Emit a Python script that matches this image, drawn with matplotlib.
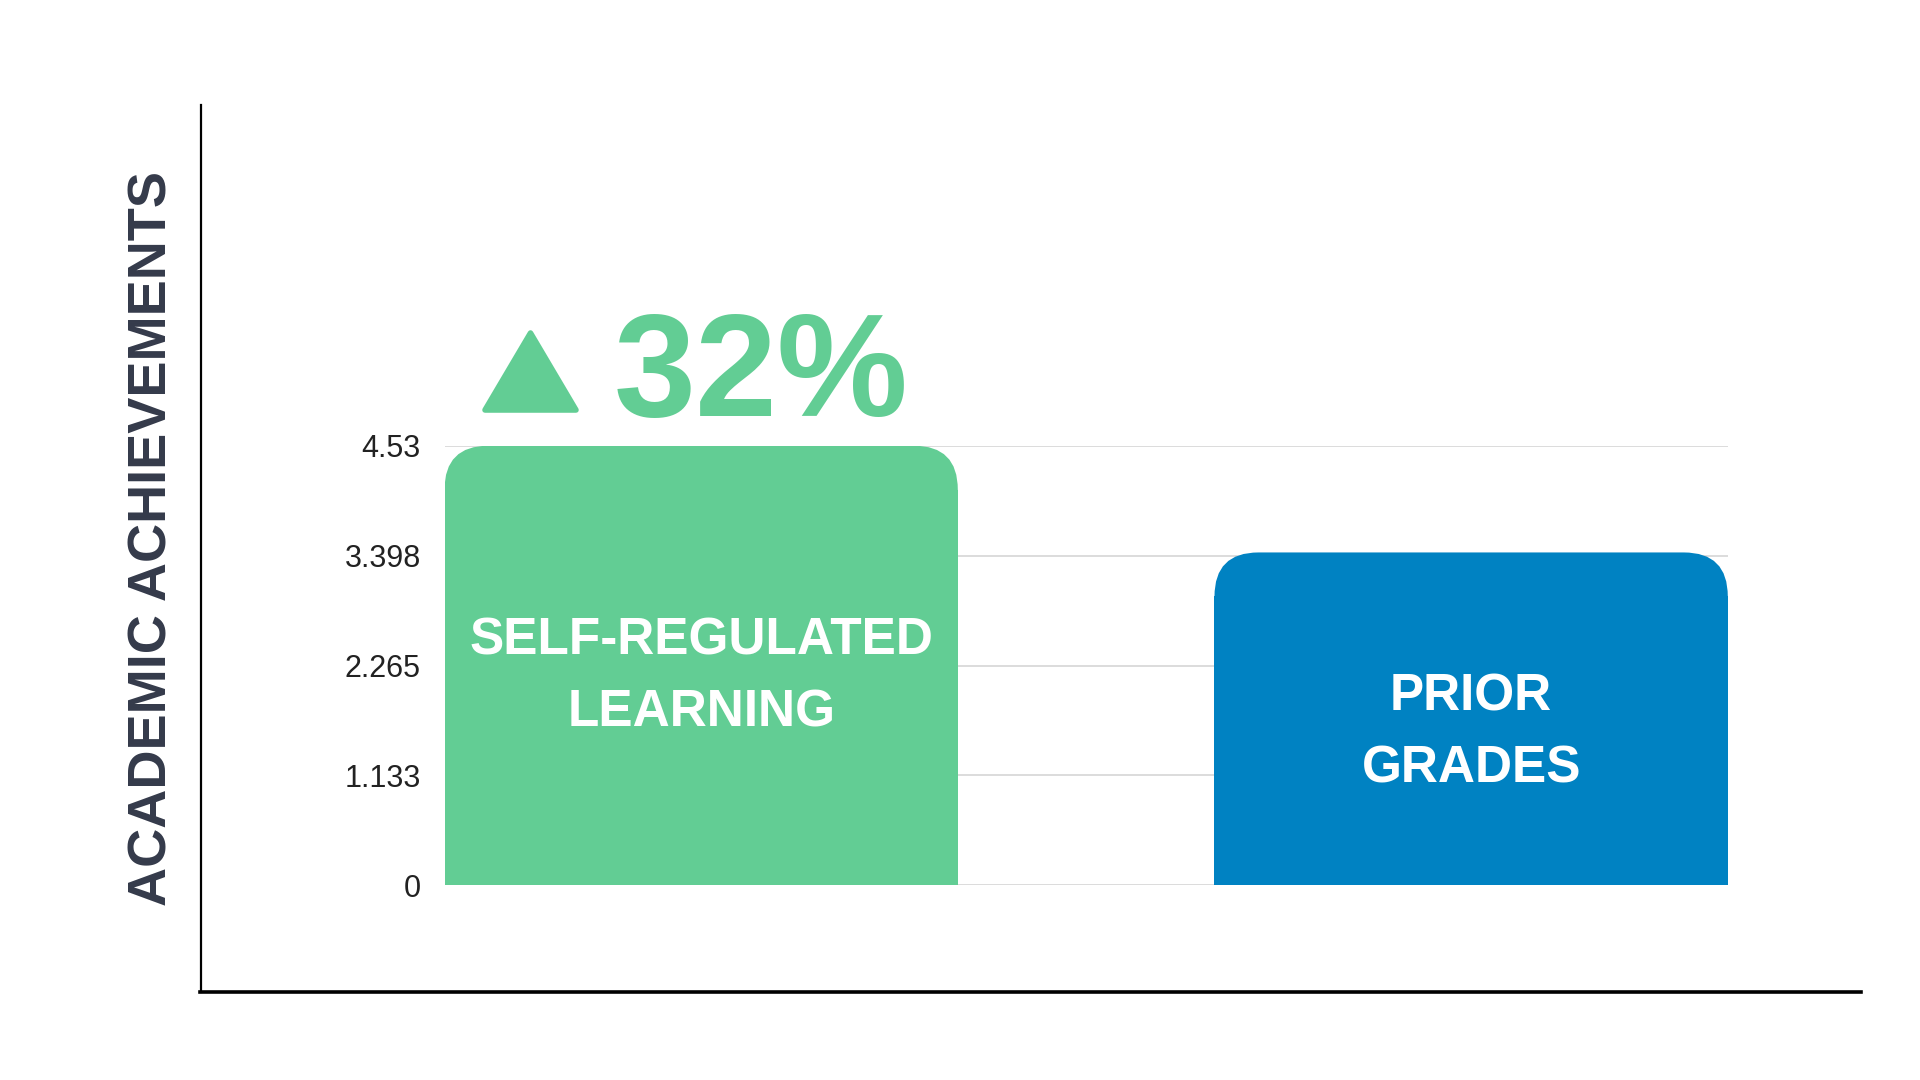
import matplotlib
matplotlib.use("Agg")
import matplotlib.pyplot as plt
from matplotlib.patches import FancyBboxPatch, Polygon
from matplotlib.lines import Line2D
import numpy as np

# data
categories = ["SELF-REGULATED\nLEARNING", "PRIOR\nGRADES"]
values = [4.53, 3.43]
bar_colors = ["#62cd94", "#0082c2"]
tick_values = [0, 1.133, 2.265, 3.398, 4.53]
tick_labels = ["0", "1.133", "2.265", "3.398", "4.53"]
y_title = "ACADEMIC ACHIEVEMENTS"
increase_text = "32%"

bold_font = ["Liberation Sans", "DejaVu Sans"]
plain = ["Liberation Sans", "DejaVu Sans"]

W, H = 1920, 1080
fig = plt.figure(figsize=(19.2, 10.8), dpi=100)
fig.patch.set_facecolor("white")

ax_left, ax_right, ax_bottom, ax_top = 444.5, 1727.8, 885.3, 445.7
ax = fig.add_axes([ax_left / W, 1 - ax_bottom / H,
                   (ax_right - ax_left) / W, (ax_bottom - ax_top) / H])

width = 2 / 3
x = np.arange(len(categories))
ax.set_xlim(-width / 2, x[-1] + width / 2)
ax.set_ylim(0, 4.53)

# rounded top corners
px_x = (ax_right - ax_left) / (x[-1] + width)
px_y = (ax_bottom - ax_top) / 4.53
r_px = 44
rx, ry = r_px / px_x, r_px / px_y

bars = ax.bar(x, values, width=width, color=bar_colors, zorder=2, linewidth=0)
for b, c in zip(bars, bar_colors):
    x0, w, h = b.get_x(), b.get_width(), b.get_height()
    b.set_height(h - ry)
    ax.add_patch(FancyBboxPatch((x0, 0), w, h,
                                boxstyle=f"round,pad=0,rounding_size={rx}",
                                mutation_aspect=ry / rx,
                                facecolor=c, edgecolor="none", zorder=2))

ax.set_yticks(tick_values)
ax.set_yticklabels(tick_labels, family=plain, fontsize=22, color="#222222")
ax.set_xticks([])
ax.tick_params(axis="y", length=0, pad=17)
ax.grid(axis="y", color="#d9d9d9", linewidth=1.3, zorder=0)
ax.set_axisbelow(True)
for s in ax.spines.values():
    s.set_visible(False)

# labels inside bars
label_y = [2.15, 1.57]
for xi, lab, ly in zip(x, categories, label_y):
    ax.text(xi, ly, lab, ha="center", va="center", color="white",
            fontsize=37, fontweight="bold", family=bold_font, linespacing=1.6,
            zorder=3)

# outer frame lines
fig.add_artist(Line2D([201 / W, 201 / W], [1 - 105 / H, 1 - 992 / H],
                      color="black", linewidth=1.6, transform=fig.transFigure))
fig.add_artist(Line2D([200 / W, 1861 / W], [1 - 992 / H, 1 - 992 / H],
                      color="black", linewidth=2.6, transform=fig.transFigure))

# y title
fig.text(153 / W, 1 - 539 / H, y_title, rotation=90, ha="center", va="center",
         fontsize=39, fontweight="bold", family=bold_font, color="#343a4a")

# increase marker
tri = [(485 / W, 1 - 410 / H), (576 / W, 1 - 410 / H), (530.5 / W, 1 - 333 / H)]
fig.add_artist(Polygon(tri, closed=True, facecolor="#62cd94", edgecolor="#62cd94",
                       linewidth=4, joinstyle="round", transform=fig.transFigure))
fig.text(614 / W, 1 - 416 / H, increase_text, ha="left", va="baseline",
         fontsize=106, fontweight="bold", family=plain, color="#62cd94")

plt.savefig("out.png", dpi=100)
